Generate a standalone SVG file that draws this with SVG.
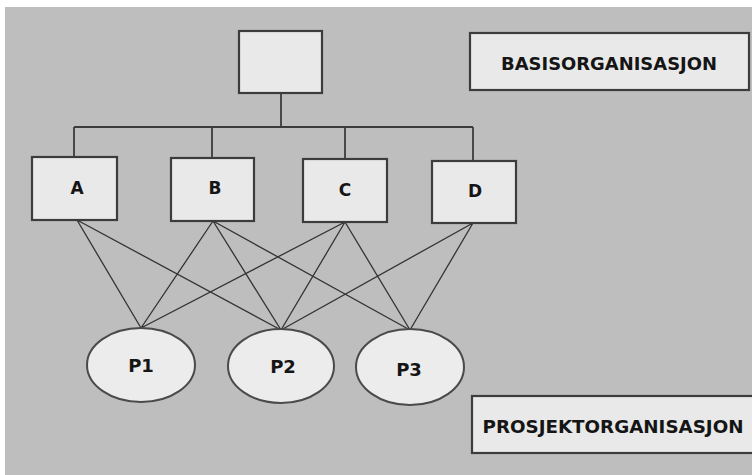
<svg xmlns="http://www.w3.org/2000/svg" width="752" height="475" viewBox="0 0 752 475">
<style>
.box{fill:#e9e9e9;stroke:#3c3c3c;stroke-width:2.2}
.ell{fill:#ececec;stroke:#4a4a4a;stroke-width:2}
.ln{stroke:#333;stroke-width:1.3;fill:none}
.tree{stroke:#3c3c3c;stroke-width:1.8;fill:none}
.lbl{font-family:"DejaVu Sans","Liberation Sans",sans-serif;font-weight:bold;fill:#151515;text-anchor:middle;dominant-baseline:central}
</style>
<rect x="0" y="0" width="752" height="475" fill="#ffffff"/>
<rect x="5" y="7" width="747" height="468" fill="#bebebe"/>
<g id="connectors">
<path class="tree" d="M281 93 V127 M74 127 H473 M74 127 V157 M212 127 V158 M345 127 V159 M473 127 V161"/>
<path class="ln" d="M77 220 L141 328 M77 220 L281 330 M213 221 L141 328 M213 221 L281 330 M213 221 L410 330 M345 222 L141 328 M345 222 L281 330 M345 222 L410 330 M473 223 L281 330 M473 223 L410 330"/>
</g>
<g id="top"><rect class="box" x="239" y="31" width="83" height="62"/></g>
<g id="nodeA"><rect class="box" x="32" y="157" width="85" height="63"/><text class="lbl" x="77" y="188" font-size="17">A</text></g>
<g id="nodeB"><rect class="box" x="171" y="158" width="83" height="63"/><text class="lbl" x="215" y="188" font-size="17">B</text></g>
<g id="nodeC"><rect class="box" x="303" y="159" width="84" height="63"/><text class="lbl" x="345" y="190" font-size="17">C</text></g>
<g id="nodeD"><rect class="box" x="432" y="161" width="84" height="62"/><text class="lbl" x="475" y="191" font-size="17">D</text></g>
<g id="P1"><ellipse class="ell" cx="141" cy="365" rx="54" ry="37"/><text class="lbl" x="141" y="365" font-size="18">P1</text></g>
<g id="P2"><ellipse class="ell" cx="281" cy="366" rx="53" ry="37"/><text class="lbl" x="283" y="366" font-size="18">P2</text></g>
<g id="P3"><ellipse class="ell" cx="410" cy="367" rx="54" ry="38"/><text class="lbl" x="409" y="369" font-size="18">P3</text></g>
<g id="basis"><rect class="box" x="470" y="33" width="279" height="57"/><text class="lbl" x="609" y="64" font-size="17" textLength="216" lengthAdjust="spacingAndGlyphs">BASISORGANISASJON</text></g>
<g id="prosjekt"><rect class="box" x="472" y="396" width="284" height="57"/><text class="lbl" x="613" y="426" font-size="18" textLength="261" lengthAdjust="spacingAndGlyphs">PROSJEKTORGANISASJON</text></g>
</svg>
